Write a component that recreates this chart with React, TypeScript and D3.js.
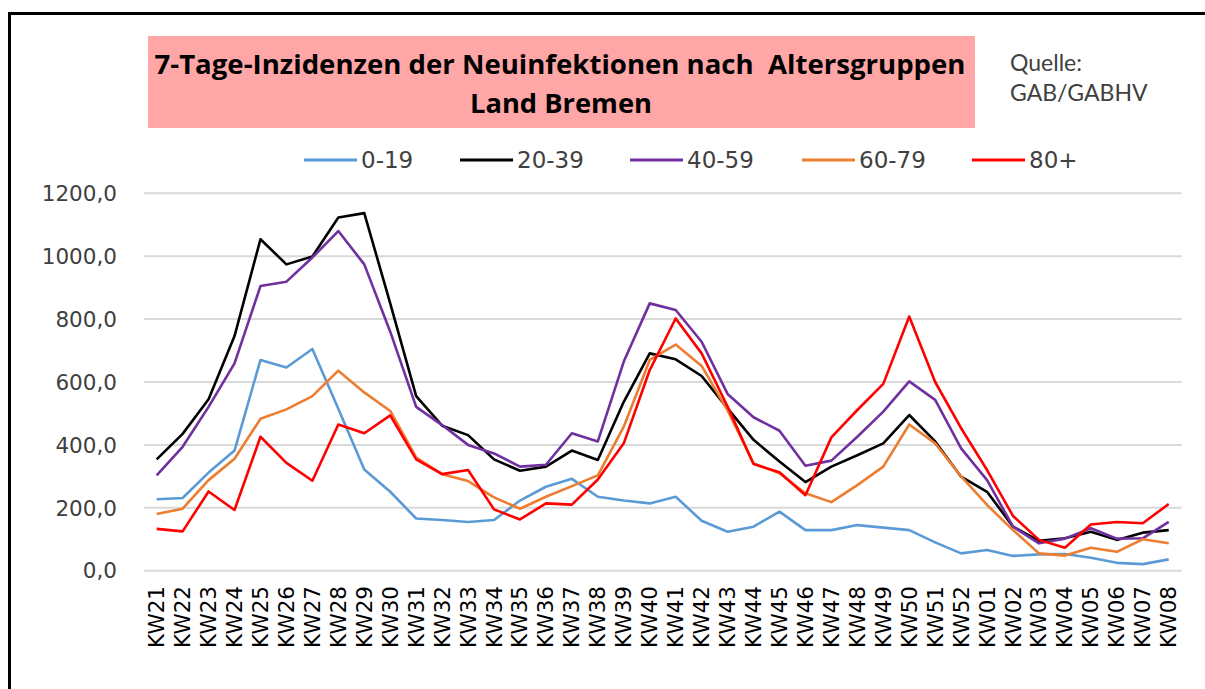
import React from "react";
import * as d3 from "d3";

const weeks = [
  "KW21", "KW22", "KW23", "KW24", "KW25", "KW26", "KW27", "KW28", "KW29", "KW30",
  "KW31", "KW32", "KW33", "KW34", "KW35", "KW36", "KW37", "KW38", "KW39", "KW40",
  "KW41", "KW42", "KW43", "KW44", "KW45", "KW46", "KW47", "KW48", "KW49", "KW50",
  "KW51", "KW52", "KW01", "KW02", "KW03", "KW04", "KW05", "KW06", "KW07", "KW08",
];

const age0to19 = [
  227, 231, 312, 382, 670, 646, 705, 515, 322, 251, 166, 161, 155, 161, 223, 267, 292, 235, 223, 214,
  235, 159, 124, 140, 188, 129, 129, 145, 137, 129, 90, 55, 66, 47, 52, 53, 41, 25, 21, 36,
];
const age20to39 = [
  354, 435, 545, 746, 1054, 974, 999, 1123, 1137, 850, 555, 461, 431, 354, 318, 331, 382, 352, 537, 691,
  672, 619, 516, 416, 347, 282, 331, 367, 405, 495, 411, 299, 251, 140, 95, 103, 124, 98, 121, 129,
];
const age40to59 = [
  303, 394, 521, 659, 905, 919, 996, 1080, 974, 760, 521, 463, 400, 373, 331, 337, 437, 411, 665, 850,
  829, 728, 562, 488, 445, 334, 350, 426, 506, 602, 543, 389, 288, 140, 87, 102, 135, 102, 103, 155,
];
const age60to79 = [
  180, 197, 288, 356, 483, 513, 555, 636, 567, 508, 360, 307, 285, 233, 197, 235, 269, 303, 458, 670,
  719, 651, 510, 341, 310, 246, 218, 272, 331, 465, 405, 300, 209, 129, 55, 48, 73, 60, 100, 87,
];
const age80plus = [
  133, 125, 252, 193, 426, 343, 286, 465, 437, 494, 354, 307, 320, 195, 163, 214, 210, 290, 405, 638,
  802, 691, 522, 339, 313, 240, 424, 511, 594, 808, 600, 453, 320, 174, 98, 73, 147, 155, 151, 212,
];

const seriesNames = ["0-19", "20-39", "40-59", "60-79", "80+"];
const seriesColors = ["#5b9bd5", "#000000", "#7030a0", "#ed7d31", "#ff0000"];
const yTicks = [0, 200, 400, 600, 800, 1000, 1200];

const W = 1205;
const H = 689;

export default function App() {
  const series = [age0to19, age20to39, age40to59, age60to79, age80plus];

  const x = d3.scaleBand<string>().domain(weeks).range([143.7, 1181.7]);
  const y = d3.scaleLinear().domain([0, 1200]).range([570.7, 193.3]);
  const cx = (w: string) => (x(w) ?? 0) + x.bandwidth() / 2;

  const line = d3
    .line<number>()
    .x((_, i) => cx(weeks[i]))
    .y((v) => y(v));

  const fmt = (v: number) => d3.format(".1f")(v).replace(".", ",");

  // legend layout (line start, text start)
  const legendX = [304, 460, 630, 802, 972];

  return (
    <svg
      width={W}
      height={H}
      style={{ position: "absolute", left: 0, top: 0, background: "#fff" }}
    >
      {/* frame */}
      <rect x={9.5} y={13.5} width={W + 20} height={H + 20} fill="none" stroke="#000" strokeWidth={3} />

      {/* title */}
      <rect x={148} y={36} width={827} height={92} fill="#ffa6a6" />
      <g fontFamily="'Open Sans', sans-serif" fontWeight="bold" fontSize={27} fill="#000" textAnchor="middle">
        <text x={560} y={74} textLength={811} lengthAdjust="spacingAndGlyphs" style={{ whiteSpace: "pre" }}>
          7-Tage-Inzidenzen der Neuinfektionen nach  Altersgruppen
        </text>
        <text x={561} y={113} textLength={182} lengthAdjust="spacingAndGlyphs">
          Land Bremen
        </text>
      </g>

      <g fontFamily="Lato, sans-serif" fontSize={23} fill="#404040">
        <text x={1010} y={71}>Quelle:</text>
        <text x={1010} y={101}>GAB/GABHV</text>
      </g>

      {/* legend */}
      <g fontFamily="'DejaVu Sans', sans-serif" fontSize={23} fill="#404040">
        {seriesNames.map((name, i) => (
          <g key={name}>
            <line x1={legendX[i]} x2={legendX[i] + 53} y1={160} y2={160} stroke={seriesColors[i]} strokeWidth={3} />
            <text x={legendX[i] + 57} y={168}>{name}</text>
          </g>
        ))}
      </g>

      {/* grid */}
      <g stroke="#d9d9d9" strokeWidth={2}>
        {yTicks.map((t) => (
          <line key={t} x1={143.7} x2={1181.7} y1={y(t)} y2={y(t)} />
        ))}
      </g>

      {/* y labels */}
      <g fontFamily="'DejaVu Sans', sans-serif" fontSize={21.5} fill="#404040" textAnchor="end">
        {yTicks.map((t) => (
          <text key={t} x={117} y={y(t)} dy="0.36em">{fmt(t)}</text>
        ))}
      </g>

      {/* x labels */}
      <g fontFamily="'DejaVu Sans', sans-serif" fontSize={21.5} fill="#000" textAnchor="end">
        {weeks.map((w) => (
          <text key={w} transform={`translate(${cx(w) + 7.5},586) rotate(-90)`}>{w}</text>
        ))}
      </g>

      {/* series */}
      {series.map((s, i) => (
        <path
          key={seriesNames[i]}
          d={line(s) ?? ""}
          fill="none"
          stroke={seriesColors[i]}
          strokeWidth={2.6}
          strokeLinejoin="round"
        />
      ))}
    </svg>
  );
}
